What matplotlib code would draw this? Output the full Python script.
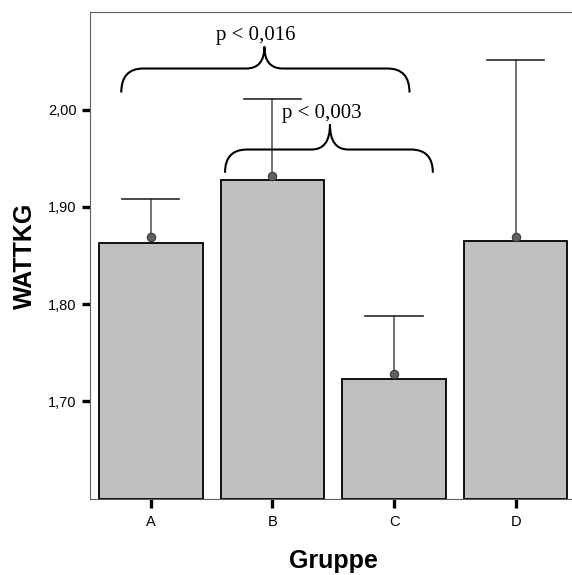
import matplotlib
matplotlib.use('Agg')
import matplotlib.pyplot as plt
from matplotlib.path import Path
from matplotlib.patches import PathPatch
import numpy as np


groups = ['A', 'B', 'C', 'D']
bar_tops = [1.863, 1.928, 1.723, 1.865]
means = [1.869, 1.932, 1.728, 1.869]
upper = [1.908, 2.011, 1.788, 2.051]
y_ticks = [1.70, 1.80, 1.90, 2.00]
y_labels = ['1,70', '1,80', '1,90', '2,00']

p_texts = ['p < 0,016', 'p < 0,003']


def brace_path(x1, x2, xc, y_end, y_mid, y_tip, dx=0.18, dx_tip=0.15):
    verts = [(x1, y_end), (x1, y_mid), (x1 + dx, y_mid),
             (xc - dx_tip, y_mid), (xc, y_mid), (xc, y_tip),
             (xc, y_mid), (xc + dx_tip, y_mid),
             (x2 - dx, y_mid), (x2, y_mid), (x2, y_end)]
    codes = [Path.MOVETO, Path.CURVE3, Path.CURVE3,
             Path.LINETO, Path.CURVE3, Path.CURVE3,
             Path.CURVE3, Path.CURVE3,
             Path.LINETO, Path.CURVE3, Path.CURVE3]
    return Path(verts, codes)


fig = plt.figure(figsize=(5.72, 5.75), dpi=100)
ax = fig.add_axes([90 / 572, 0.133, 486.5 / 572, 0.8456])

x = np.arange(len(groups))
ax.bar(x, np.array(bar_tops) - 1.6, bottom=1.6, width=0.85, color='#c0c0c0',
       edgecolor='black', linewidth=1.3, zorder=2)

for xi, m, u in zip(x, means, upper):
    ax.plot([xi, xi], [m, u], color='#5a5a5a', linewidth=1.2, zorder=3)
    ax.plot([xi - 0.235, xi + 0.235], [u, u], color='#2a2a2a', linewidth=1.2, zorder=3)
ax.plot(x, means, 'o', markersize=6, markerfacecolor='#606060',
        markeredgecolor='#3a3a3a', markeredgewidth=0.8, zorder=4)

# Klammern mit p-Werten
for p in [brace_path(-0.243, 2.127, 0.934, 2.0175, 2.0422, 2.0648),
          brace_path(0.610, 2.319, 1.473, 1.935, 1.9589, 1.9846)]:
    ax.add_patch(PathPatch(p, facecolor='none', edgecolor='black', linewidth=1.5, zorder=5))
ax.text(0.864, 2.076, p_texts[0], ha='center', va='center',
        family='Liberation Serif', fontsize=15)
ax.text(1.407, 1.996, p_texts[1], ha='center', va='center',
        family='Liberation Serif', fontsize=15)

ax.set_xlim(-0.5, 3.5)
ax.set_ylim(1.60, 2.10)
ax.set_xticks(x)
ax.set_xticklabels(groups, family='Liberation Sans', fontsize=10.5)
ax.set_yticks(y_ticks)
ax.set_yticklabels(y_labels, family='Liberation Sans', fontsize=10.5)
ax.tick_params(axis='y', length=6, width=2.4, pad=3.6, color='black')
ax.tick_params(axis='x', length=6.5, width=2.4, pad=5.5, color='black')
for s in ['left', 'top', 'bottom']:
    ax.spines[s].set_color('#606060')
    ax.spines[s].set_linewidth(0.8)
ax.spines['right'].set_visible(False)

ax.set_ylabel('WATTKG', family='Liberation Sans', fontsize=18, fontweight='bold')
ax.yaxis.set_label_coords(-0.109, 0.5)
ax.set_xlabel('Gruppe', family='Liberation Sans', fontsize=18, fontweight='bold')
ax.xaxis.set_label_coords(0.5, -0.104)

fig.savefig('out.png', dpi=100)
